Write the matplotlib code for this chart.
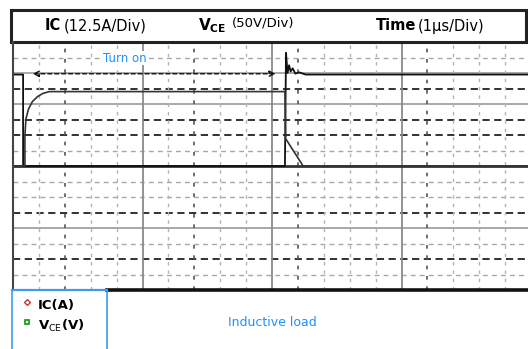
import matplotlib
matplotlib.use("Agg")
import matplotlib.pyplot as plt
from matplotlib.patches import Rectangle
from matplotlib.lines import Line2D

# Scope settings
ic_per_div = 12.5     # A / div
vce_per_div = 50.0    # V / div
time_per_div = 1.0    # us / div

# Collector current trace (time in us, current in A)
ic_time = [0.0, 0.46, 0.46, 0.50, 0.60, 0.75, 0.95, 1.15, 1.40, 10.50, 10.53, 10.56, 11.20, 19.9]
ic_amps = [0.0, 0.0, 25.0, 38.0, 46.0, 52.0, 56.0, 58.5, 60.0, 60.0, 21.0, 21.0, 0.0, 0.0]

# Collector-emitter voltage trace (time in us, voltage in V)
vce_time = [0.0, 0.39, 0.39, 10.50, 10.54, 10.60, 10.66, 10.72, 10.80, 10.90, 11.05, 11.30, 19.9]
vce_volts = [295.0, 295.0, 0.0, 0.0, 365.0, 300.0, 325.0, 305.0, 315.0, 298.0, 302.0, 295.0, 295.0]

header_labels = ["IC", "(12.5A/Div)", "(50V/Div)", "Time", "(1\u00b5s/Div)"]
legend_labels = ["IC(A)", r"V$_{\mathrm{CE}}$(V)"]
annot_turn_on = "Turn on"
annot_load = "Inductive load"

W, H = 528, 349
fig = plt.figure(figsize=(W / 100, H / 100), dpi=100)

def fx(px):
    return px / W

def fy(py):
    return 1 - py / H

# Plot area
left_px, right_px, top_px, bot_px = 13, 528, 42, 290
ax = fig.add_axes([fx(left_px), fy(bot_px), fx(right_px - left_px), (bot_px - top_px) / H])
div_px = 25.9
ax.set_xlim(0, (right_px - left_px) / div_px)
ax.set_ylim(-8, 8)
for s in ax.spines.values():
    s.set_visible(False)
ax.set_xticks([])
ax.set_yticks([])

gray = "#a8a8a8"
dark = "#222222"

# Horizontal grid: (division, style)
h_styles = {
    7: "gd", 6: "gs", 5: "kd", 4: "gs", 3: "kd", 2: "kd", 1: "gd",
    -1: "gd", -2: "gd", -3: "kd", -4: "gs", -5: "gd", -6: "kd", -7: "gd",
}
for yv, st in h_styles.items():
    if st == "gd":
        ax.axhline(yv, color=gray, lw=1.0, dashes=(3.5, 3.0), zorder=1)
    elif st == "kd":
        ax.axhline(yv, color=dark, lw=1.3, dashes=(4.0, 2.5), zorder=1)
    else:
        ax.axhline(yv, color="#999999", lw=1.2, zorder=1)
ax.axhline(0, color="#333333", lw=2.0, zorder=2)

# Vertical grid
for xv in range(1, 20):
    if xv in (5, 10, 15):
        ax.axvline(xv, color="#8a8a8a", lw=1.3, zorder=1)
    elif xv in (2, 7, 11, 16):
        ax.axvline(xv, color="#555555", lw=1.2, dashes=(2.2, 4.0), zorder=1)
    else:
        ax.axvline(xv, color="#b4b4b4", lw=1.0, dashes=(2.5, 3.5), zorder=1)

# Traces
ax.plot([t / time_per_div for t in vce_time], [v / vce_per_div for v in vce_volts],
        color="#111111", lw=1.3, zorder=4)
ax.plot([t / time_per_div for t in ic_time], [i / ic_per_div for i in ic_amps],
        color="#333333", lw=1.2, zorder=5)

# Turn-on interval marker
ax.annotate("", xy=(0.65, 5.95), xytext=(10.25, 5.95),
            arrowprops=dict(arrowstyle="<|-|>", color="#111111", lw=1.0,
                            linestyle=(0, (3, 2)), mutation_scale=9,
                            fill=False),
            zorder=6)
ax.text(4.3, 6.95, annot_turn_on, color="#1E90FF", fontsize=8.5,
        ha="center", va="center", zorder=6,
        bbox=dict(facecolor="white", edgecolor="none", pad=0.5))

# Left border of plot
fig.add_artist(Line2D([fx(13), fx(13)], [fy(42), fy(290)], color="#444444", lw=1.5))

# Header box
fig.add_artist(Rectangle((fx(11), fy(42)), fx(526 - 11), (42 - 10) / H,
                         fill=False, edgecolor="#222222", lw=2.2))
ty = fy(26)
fig.text(fx(45), ty, header_labels[0], fontsize=10.5, fontweight="bold", va="center")
fig.text(fx(64), ty, header_labels[1], fontsize=10.5, va="center")
fig.text(fx(198), ty, r"V$_{\mathbf{CE}}$", fontsize=11, fontweight="bold", va="center")
fig.text(fx(232), ty + 0.01, header_labels[2], fontsize=9.5, va="center")
fig.text(fx(376), ty, header_labels[3], fontsize=10.5, fontweight="bold", va="center")
fig.text(fx(418), ty, header_labels[4], fontsize=10.5, va="center")

# Bottom rule and legend box
blue = "#3d9cf0"
fig.add_artist(Line2D([fx(107), fx(528)], [fy(290), fy(290)], color="#111111", lw=2.6))
fig.add_artist(Line2D([fx(12), fx(107)], [fy(290), fy(290)], color=blue, lw=1.6))
fig.add_artist(Line2D([fx(12), fx(12)], [fy(290), fy(349)], color=blue, lw=1.2))
fig.add_artist(Line2D([fx(107), fx(107)], [fy(290), fy(349)], color=blue, lw=1.2))

fig.add_artist(Line2D([fx(27)], [fy(302)], marker="D", markersize=3,
                      markerfacecolor="none", markeredgecolor="#d03030", lw=0))
fig.add_artist(Line2D([fx(27)], [fy(322)], marker="s", markersize=3.5,
                      markerfacecolor="none", markeredgecolor="#20a020",
                      markeredgewidth=1.3, lw=0))
fig.text(fx(38), fy(305), legend_labels[0], fontsize=9.5, fontweight="bold", va="center")
fig.text(fx(38), fy(326), legend_labels[1], fontsize=9.5, fontweight="bold", va="center")

fig.text(fx(272), fy(322), annot_load, color="#1E90FF", fontsize=9,
         ha="center", va="center")

fig.savefig("out.png", dpi=100, facecolor="white")
